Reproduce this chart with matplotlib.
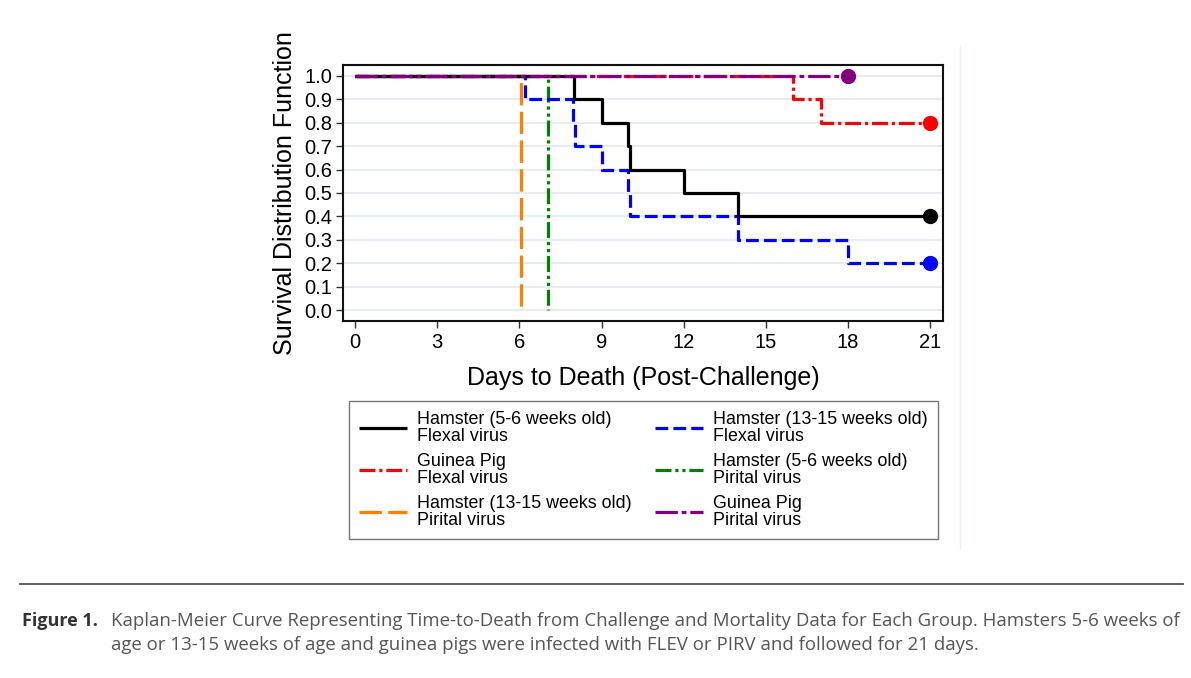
import matplotlib
matplotlib.use("Agg")
import matplotlib.pyplot as plt
from matplotlib.lines import Line2D
import numpy as np

# ---- data ----
labels = [
    "Hamster (5-6 weeks old)\nFlexal virus",
    "Hamster (13-15 weeks old)\nFlexal virus",
    "Guinea Pig\nFlexal virus",
    "Hamster (5-6 weeks old)\nPirital virus",
    "Hamster (13-15 weeks old)\nPirital virus",
    "Guinea Pig\nPirital virus",
]
ham56_flev_t = [0, 8, 9, 9.95, 10.05, 12, 14, 21]
ham56_flev_s = [1.0, 0.9, 0.8, 0.7, 0.6, 0.5, 0.4, 0.4]
ham1315_flev_t = [0, 6.2, 7.95, 8.05, 9, 9.95, 10.05, 14, 18, 21]
ham1315_flev_s = [1.0, 0.9, 0.8, 0.7, 0.6, 0.5, 0.4, 0.3, 0.2, 0.2]
gp_flev_t = [0, 16, 17, 21]
gp_flev_s = [1.0, 0.9, 0.8, 0.8]
ham56_pirv_t = [0, 7.05]
ham56_pirv_s = [1.0, 0.0]
ham1315_pirv_t = [0, 6.05]
ham1315_pirv_s = [1.0, 0.0]
gp_pirv_t = [0, 18]
gp_pirv_s = [1.0, 1.0]
censored = [True, True, True, False, False, True]

x_ticks = [0, 3, 6, 9, 12, 15, 18, 21]
y_ticks = [0.0, 0.1, 0.2, 0.3, 0.4, 0.5, 0.6, 0.7, 0.8, 0.9, 1.0]

series = [
    (ham56_flev_t, ham56_flev_s),
    (ham1315_flev_t, ham1315_flev_s),
    (gp_flev_t, gp_flev_s),
    (ham56_pirv_t, ham56_pirv_s),
    (ham1315_pirv_t, ham1315_pirv_s),
    (gp_pirv_t, gp_pirv_s),
]
colors = ["black", "#0000ff", "#ff0000", "#008000", "#ff8000", "#800080"]
dashes = [
    None,
    (4, 1.6),
    (5, 1.2, 1, 1.2),
    (5, 1.2, 1, 1.2, 1, 1.2),
    (7, 2),
    (7, 1.2, 1.5, 1.2),
]
zorders = [5, 4, 3, 3, 3, 6]

W, H = 1191, 678
fig = plt.figure(figsize=(W / 100, H / 100), dpi=100)
plt.rcParams['font.family'] = ['Liberation Sans', 'DejaVu Sans']

ax = fig.add_axes([343 / W, 1 - 321 / H, 600 / W, 256 / H])
ax.set_xlim(-0.44, 21.47)
ax.set_ylim(-0.047, 1.047)
for yv in y_ticks:
    ax.axhline(yv, color="#e4ecf1", lw=1.3, zorder=0)

handles = []
for (t, s), c, d, z, cen in zip(series, colors, dashes, zorders, censored):
    ln, = ax.step(t, s, where="post", color=c, lw=2.3, zorder=z,
                  solid_capstyle="butt", dash_capstyle="butt")
    if d is not None:
        ln.set_dashes(d)
    if cen:
        ax.plot([t[-1]], [s[-1]], "o", color=c, ms=10, zorder=z + 1)
    handles.append(ln)

ax.set_xticks(x_ticks)
ax.set_xticklabels([str(v) for v in x_ticks])
ax.set_yticks(y_ticks)
ax.set_yticklabels([f"{v:.1f}" for v in y_ticks])
ax.tick_params(axis="both", labelsize=14.5, length=5, width=1, color="#333333", pad=3)
ax.tick_params(axis="x", pad=4)
for sp in ax.spines.values():
    sp.set_linewidth(1.5)
    sp.set_color("#111111")
ax.set_xlabel("Days to Death (Post-Challenge)", fontsize=18, labelpad=10)
ax.set_ylabel("Survival Distribution Function", fontsize=18, labelpad=5)

order = [0, 2, 4, 1, 3, 5]
leg = fig.legend([handles[i] for i in order], [labels[i] for i in order],
                 loc="upper left", ncol=2,
                 bbox_to_anchor=(349 / W, 1 - 401 / H),
                 borderaxespad=0, fontsize=12.9,
                 handlelength=2.7, handletextpad=0.55, labelspacing=0.45,
                 frameon=True, fancybox=False, edgecolor="#555555",
                 borderpad=0.55, columnspacing=1.3)
leg.get_frame().set_linewidth(1.0)
for t in leg.get_texts():
    t.set_linespacing(1.0)

# faint vertical divider and caption rule
fig.add_artist(Line2D([960 / W, 960 / W], [1 - 45 / H, 1 - 548 / H],
                      color="#eaf2f4", lw=1.0))
fig.add_artist(Line2D([20 / W, 1183 / W], [1 - 584 / H, 1 - 584 / H],
                      color="#555555", lw=1.3))

cap_font = ['Open Sans', 'DejaVu Sans']
fig.text(22 / W, 1 - 621 / H, "Figure 1.", fontsize=13, fontweight="bold",
         color="#333333", family=cap_font, va="center")
l1 = fig.text(111 / W, 1 - 621 / H,
              "Kaplan-Meier Curve Representing Time-to-Death from Challenge and Mortality Data for Each Group. Hamsters 5-6 weeks of",
              fontsize=12, color="#555555", family=cap_font, va="center")
l2 = fig.text(111 / W, 1 - 645 / H,
              "age or 13-15 weeks of age and guinea pigs were infected with FLEV or PIRV and followed for 21 days.",
              fontsize=12, color="#555555", family=cap_font, va="center")
fig.canvas.draw()
r = fig.canvas.get_renderer()
w = l1.get_window_extent(r).width
fs = 12 * 1067 / w
l1.set_fontsize(fs)
l2.set_fontsize(fs)

fig.savefig("out.png", dpi=100)
